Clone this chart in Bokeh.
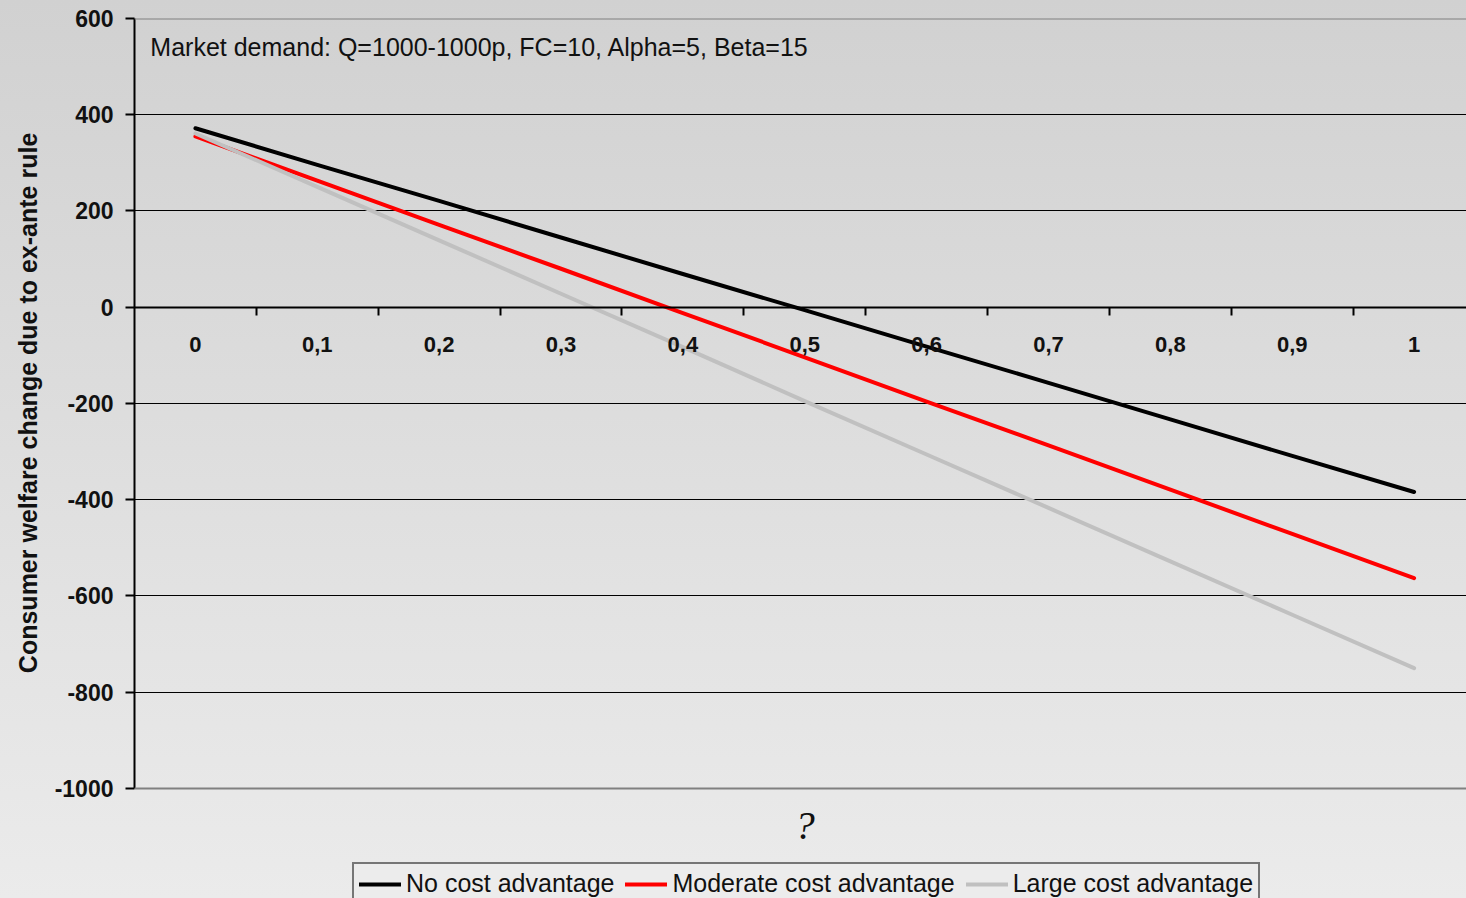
from bokeh.plotting import figure
from bokeh.models import FixedTicker, Span, Label, Legend, LegendItem, LinearAxis, Range1d
from bokeh.embed import file_html
from bokeh.resources import INLINE

categories = ["0", "0,1", "0,2", "0,3", "0,4", "0,5", "0,6", "0,7", "0,8", "0,9", "1"]
no_cost = [372, 296, 221, 145, 69, -6, -82, -157, -233, -309, -384]
moderate = [355, 263, 171, 80, -12, -104, -196, -287, -379, -471, -563]
large = [361, 250, 139, 28, -83, -195, -306, -417, -528, -639, -750]
y_ticks = [-1000, -800, -600, -400, -200, 0, 200, 400, 600]
series_names = ["No cost advantage", "Moderate cost advantage", "Large cost advantage"]
series_colors = ["#000000", "#ff0000", "#c0c0c0"]
annotation = "Market demand: Q=1000-1000p, FC=10, Alpha=5, Beta=15"
x_title = "?"
y_title = "Consumer welfare change due to ex-ante rule"

xs = list(range(len(categories)))

# frame spans the whole lower area so that the legend and the x title can sit inside it
p = figure(width=1466, height=898, output_backend="svg", toolbar_location=None,
           x_range=Range1d(-0.5, 10.43), y_range=Range1d(-1228.6, 600),
           x_axis_location=None,
           min_border_left=134, min_border_right=0, min_border_top=18, min_border_bottom=0)

p.background_fill_alpha = 0
p.border_fill_alpha = 0
p.styles = {"background": "linear-gradient(to bottom, #d1d1d1, #ebebeb)"}
p.outline_line_color = None

# y axis
p.yaxis.ticker = FixedTicker(ticks=y_ticks)
p.yaxis.bounds = (-1000, 600)
p.yaxis.major_label_overrides = {t: str(t) for t in y_ticks}
p.yaxis.axis_line_color = "black"
p.yaxis.axis_line_width = 2
p.yaxis.major_tick_line_color = "black"
p.yaxis.major_tick_line_width = 2
p.yaxis.major_tick_out = 9
p.yaxis.major_tick_in = 0
p.yaxis.minor_tick_line_color = None
p.yaxis.major_label_standoff = 12
p.yaxis.major_label_text_font = "Liberation Sans"
p.yaxis.major_label_text_font_style = "bold"
p.yaxis.major_label_text_font_size = "23px"
p.yaxis.major_label_text_color = "#111111"
# leading no-break spaces lift the title so it is centred on the -1000..600 part of the axis
p.yaxis.axis_label = "\u00a0" * 16 + y_title
p.yaxis.axis_label_text_font = "Liberation Sans"
p.yaxis.axis_label_text_font_style = "bold"
p.yaxis.axis_label_text_font_size = "25px"
p.yaxis.axis_label_text_color = "#111111"
p.yaxis.axis_label_standoff = 10

# grid
p.xgrid.visible = False
p.ygrid.ticker = FixedTicker(ticks=[-800, -600, -400, -200, 200, 400])
p.ygrid.grid_line_color = "black"
p.ygrid.grid_line_width = 1

p.add_layout(Span(location=600, dimension="width", line_color="#808080", line_width=2))
p.add_layout(Span(location=-1000, dimension="width", line_color="#808080", line_width=2))

# x axis at y = 0: ticks between categories
tick_axis = LinearAxis(fixed_location=0,
                       ticker=FixedTicker(ticks=[i + 0.5 for i in xs[:-1]]),
                       major_label_text_alpha=0, major_label_text_font_size="1px",
                       axis_line_color="black", axis_line_width=2,
                       major_tick_line_color="black", major_tick_line_width=2,
                       major_tick_out=8, major_tick_in=0,
                       minor_tick_line_color=None)
p.add_layout(tick_axis, "below")

label_axis = LinearAxis(fixed_location=0,
                        ticker=FixedTicker(ticks=xs),
                        major_label_overrides={i: c for i, c in zip(xs, categories)},
                        axis_line_color=None,
                        major_tick_line_color=None, minor_tick_line_color=None,
                        major_tick_out=0, major_tick_in=0,
                        major_label_standoff=30,
                        major_label_text_font="Liberation Sans",
                        major_label_text_font_style="bold",
                        major_label_text_font_size="22px",
                        major_label_text_color="#111111")
p.add_layout(label_axis, "below")

renderers = []
for vals, col in zip([no_cost, moderate, large], series_colors):
    r = p.line(xs, vals, line_color=col, line_width=4, line_cap="round", line_join="round")
    renderers.append(r)

p.add_layout(Label(x=-0.37, y=540, text=annotation, text_baseline="middle",
                   text_font="Liberation Sans", text_font_size="25px", text_color="#111111"))

p.add_layout(Label(x=5.0, y=-1077, text=x_title, text_align="center", text_baseline="middle",
                   text_font="Liberation Serif", text_font_style="italic",
                   text_font_size="40px", text_color="#111111"))

legend = Legend(items=[LegendItem(label=n, renderers=[r]) for n, r in zip(series_names, renderers)],
                orientation="horizontal", location=(218, -7),
                label_text_font="Liberation Sans", label_text_font_size="25px",
                label_text_color="#111111",
                glyph_width=42, glyph_height=26, label_height=26, label_standoff=5,
                spacing=11, padding=5, margin=0,
                border_line_color="black", border_line_width=2,
                background_fill_color="#ececec", background_fill_alpha=1)
p.add_layout(legend, "center")

open("out.html", "w").write(file_html(p, INLINE))
